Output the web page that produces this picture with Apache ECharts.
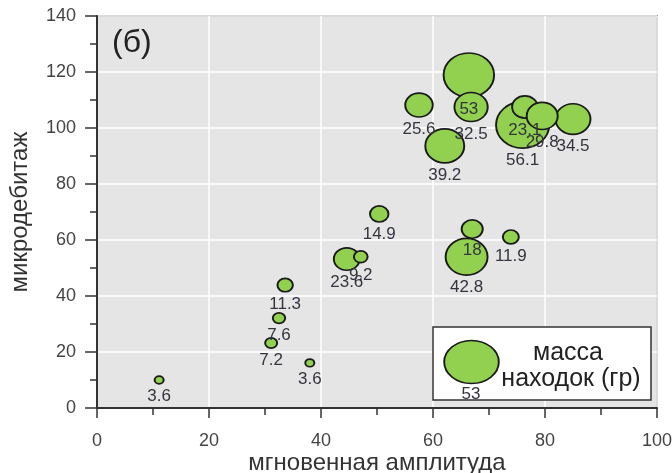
<!DOCTYPE html>
<html>
<head>
<meta charset="utf-8">
<script src="https://cdn.jsdelivr.net/npm/echarts@6/dist/echarts.min.js"></script>
<style>
  html, body { margin: 0; padding: 0; background: #ffffff; }
  #chart { width: 672px; height: 473px; }
</style>
</head>
<body>
<div id="chart"></div>
<script>
// Finds: instantaneous amplitude, micro-debitage count and mass of finds (g)
const amplitude = [76.0, 66.4, 66.0, 62.1, 85.0, 66.8, 76.4, 79.5, 57.5, 44.6, 67.0, 50.4, 73.9, 33.6, 47.1, 32.5, 31.1, 38.0, 11.1];
const debitage  = [101.1, 118.9, 54.0, 93.6, 103.2, 107.5, 107.5, 104.3, 108.2, 53.2, 63.9, 69.3, 61.1, 43.9, 54.0, 32.1, 23.2, 16.1, 10.0];
const mass      = [56.1, 53, 42.8, 39.2, 34.5, 32.5, 23.1, 29.8, 25.6, 23.6, 18, 14.9, 11.9, 11.3, 9.2, 7.6, 7.2, 3.6, 3.6];

const xTicks = [0, 20, 40, 60, 80, 100];
const yTicks = [0, 20, 40, 60, 80, 100, 120, 140];

const FONT = '"Liberation Sans", Arial, sans-serif';
const GREEN = '#92d050';
const OUTLINE = '#1a1a1a';

// bubble footprint grows with the mass of the find
function bubbleSize(m) {
  return [0.84 * m + 6, 0.74 * m + 5];
}

const points = amplitude.map((a, i) => [a, debitage[i], mass[i]]);

const chart = echarts.init(document.getElementById('chart'), null, { renderer: 'canvas' });

chart.setOption({
  animation: false,
  backgroundColor: '#ffffff',
  grid: {
    left: 97, right: 15, top: 16, bottom: 65,
    containLabel: false,
    outerBoundsMode: 'none',
    show: true,
    backgroundColor: '#e5e5e5',
    borderColor: '#444444',
    borderWidth: 1.5
  },
  xAxis: {
    type: 'value',
    min: xTicks[0], max: xTicks[xTicks.length - 1], interval: 20,
    name: 'мгновенная амплитуда',
    nameLocation: 'middle',
    nameGap: 43,
    nameMoveOverlap: false,
    nameTextStyle: { fontFamily: FONT, fontSize: 24, color: '#333333' },
    axisLine: { show: true, onZero: false, lineStyle: { color: '#333333', width: 2 } },
    axisTick: { show: true, inside: false, length: 10, lineStyle: { color: '#333333', width: 1.5 } },
    minorTick: { show: true, splitNumber: 2, length: 7, lineStyle: { color: '#333333', width: 1.5 } },
    axisLabel: { fontFamily: FONT, fontSize: 18, color: '#444444', margin: 24 },
    splitLine: { show: true, lineStyle: { color: '#ffffff', width: 1.5 } }
  },
  yAxis: {
    type: 'value',
    min: yTicks[0], max: yTicks[yTicks.length - 1], interval: 20,
    name: 'микродебитаж',
    nameLocation: 'middle',
    nameGap: 65,
    nameMoveOverlap: false,
    nameTextStyle: { fontFamily: FONT, fontSize: 24, color: '#333333' },
    axisLine: { show: true, onZero: false, lineStyle: { color: '#333333', width: 2 } },
    axisTick: { show: true, inside: false, length: 12, lineStyle: { color: '#333333', width: 1.5 } },
    minorTick: { show: true, splitNumber: 2, length: 7, lineStyle: { color: '#333333', width: 1.5 } },
    axisLabel: { fontFamily: FONT, fontSize: 18, color: '#444444', margin: 21 },
    splitLine: { show: true, lineStyle: { color: '#ffffff', width: 1.5 } }
  },
  series: [{
    type: 'scatter',
    data: points,
    symbol: 'circle',
    symbolSize: (v) => bubbleSize(v[2]),
    itemStyle: { color: GREEN, borderColor: OUTLINE, borderWidth: 1.8, opacity: 1 },
    label: {
      show: true,
      position: 'bottom',
      distance: 3,
      formatter: (p) => String(p.value[2]),
      fontFamily: FONT,
      fontSize: 17,
      color: '#34343e'
    },
    emphasis: { disabled: true }
  }],
  graphic: [
    {
      type: 'text', left: 112, top: 27, z: 100,
      style: { text: '(б)', fontFamily: FONT, fontSize: 32, fill: '#222222' }
    },
    {
      type: 'group', z: 100,
      children: [
        {
          type: 'rect', z: 100,
          shape: { x: 433, y: 327, width: 218, height: 73 },
          style: { fill: '#ffffff', stroke: '#333333', lineWidth: 1.5 }
        },
        {
          type: 'circle', z: 101,
          x: 471.5, y: 362, scaleX: 1.27, scaleY: 1,
          shape: { cx: 0, cy: 0, r: 21.5 },
          style: { fill: GREEN, stroke: OUTLINE, lineWidth: 1.5 }
        },
        {
          type: 'text', z: 102, x: 471, y: 394,
          style: { text: '53', fontFamily: FONT, fontSize: 17, fill: '#34343e', align: 'center', verticalAlign: 'middle' }
        },
        {
          type: 'text', z: 102, x: 568, y: 353,
          style: { text: 'масса', fontFamily: FONT, fontSize: 25, fill: '#222222', align: 'center', verticalAlign: 'middle' }
        },
        {
          type: 'text', z: 102, x: 571, y: 379,
          style: { text: 'находок (гр)', fontFamily: FONT, fontSize: 25, fill: '#222222', align: 'center', verticalAlign: 'middle' }
        }
      ]
    }
  ]
});
</script>
</body>
</html>
